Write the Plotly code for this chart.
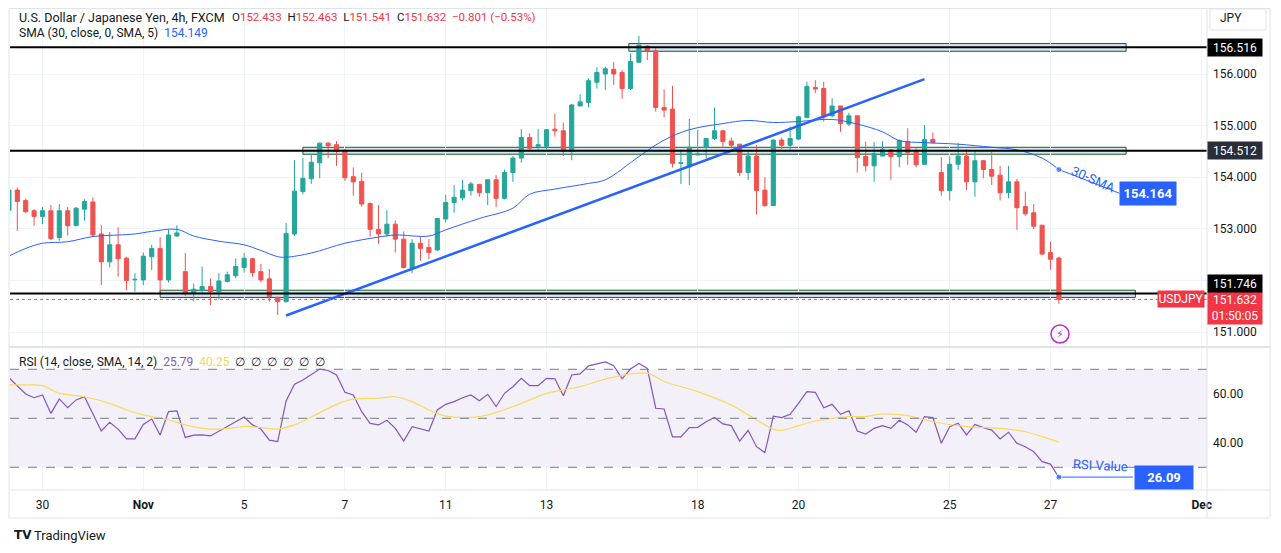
import plotly.graph_objects as go

# 4h candles USD/JPY (FXCM), Oct 29 .. Nov 27, one entry per bar
opens = [153.36, 153.75, 153.55, 153.35, 153.24, 153.35, 152.83, 153.35, 153.06, 153.38,
         153.52, 152.90, 152.36, 152.69, 152.43, 152.01, 152.01, 152.46, 152.62, 152.01,
         152.86, 152.17, 151.75, 151.81, 151.88, 151.78, 151.98, 152.09, 152.25, 152.42,
         152.17, 152.03, 151.67, 151.59, 152.90, 153.72, 153.97, 154.28, 154.66, 154.63,
         154.52, 154.01, 153.92, 153.49, 152.99, 152.90, 153.09, 152.80, 152.24, 152.72,
         152.64, 152.59, 153.19, 153.51, 153.60, 153.74, 153.86, 153.70, 153.95, 153.59,
         154.09, 154.37, 154.77, 154.60, 154.60, 154.93, 154.90, 154.50, 155.38, 155.45,
         155.84, 156.00, 156.09, 156.03, 155.72, 156.23, 156.54, 156.45, 155.35, 155.32,
         154.27, 154.20, 154.43, 154.58, 154.75, 154.90, 154.70, 154.64, 154.09, 154.41,
         153.75, 153.45, 154.72, 154.62, 154.74, 155.16, 155.74, 155.72, 155.19, 155.38,
         155.03, 155.19, 154.40, 154.22, 154.41, 154.53, 154.40, 154.69, 154.50, 154.25,
         154.73, 154.09, 153.74, 154.25, 154.41, 153.91, 154.32, 154.15, 154.04, 153.70,
         153.91, 153.43, 153.31, 153.07, 152.54, 152.433]
highs = [153.80, 153.80, 153.58, 153.38, 153.42, 153.46, 153.48, 153.42, 153.42, 153.57,
         153.61, 153.07, 152.94, 153.03, 152.46, 152.14, 152.54, 152.69, 152.84, 152.98,
         153.07, 152.53, 151.94, 152.27, 152.04, 152.14, 152.17, 152.43, 152.53, 152.44,
         152.32, 152.22, 151.69, 153.11, 154.33, 154.37, 154.45, 154.67, 154.68, 154.70,
         154.55, 154.19, 154.09, 153.51, 153.46, 153.36, 153.16, 152.95, 152.80, 152.84,
         152.80, 153.21, 153.66, 153.85, 153.95, 153.91, 153.87, 153.96, 154.04, 154.15,
         154.41, 154.93, 154.85, 154.93, 154.93, 155.23, 155.06, 155.42, 155.61, 155.92,
         156.13, 156.14, 156.23, 156.08, 156.40, 156.74, 156.56, 156.50, 155.70, 155.77,
         154.53, 155.13, 154.92, 154.76, 155.35, 154.92, 154.77, 154.64, 154.50, 154.62,
         154.00, 154.73, 154.77, 154.98, 155.19, 155.85, 155.88, 155.85, 155.53, 155.38,
         155.25, 155.19, 154.69, 154.68, 154.70, 154.54, 154.73, 154.95, 154.56, 155.01,
         154.87, 154.39, 154.40, 154.66, 154.54, 154.51, 154.33, 154.50, 154.22, 154.22,
         153.97, 153.72, 153.48, 153.07, 152.75, 152.463]
lows = [153.33, 152.96, 153.31, 153.06, 153.09, 152.78, 152.77, 152.87, 153.06, 153.16,
        152.85, 151.91, 152.25, 152.07, 151.81, 151.78, 151.91, 152.20, 151.75, 151.96,
        152.85, 151.70, 151.59, 151.75, 151.52, 151.63, 151.96, 152.04, 152.15, 152.07,
        151.96, 151.59, 151.33, 151.57, 152.86, 153.67, 153.87, 153.98, 154.37, 154.22,
        153.93, 153.64, 153.43, 152.85, 152.71, 152.84, 152.54, 152.23, 152.14, 152.38,
        152.41, 152.58, 153.12, 153.31, 153.55, 153.64, 153.62, 153.46, 153.42, 153.57,
        153.91, 154.28, 154.50, 154.51, 154.54, 154.79, 154.41, 154.33, 155.38, 155.35,
        155.72, 155.69, 155.79, 155.52, 155.69, 156.21, 156.27, 155.27, 155.16, 154.19,
        153.87, 153.85, 154.43, 154.37, 154.72, 154.59, 154.56, 154.02, 153.95, 153.28,
        153.43, 153.45, 154.54, 154.53, 154.72, 155.14, 155.63, 155.08, 155.16, 154.88,
        154.99, 154.09, 154.11, 153.91, 154.41, 153.95, 154.19, 154.24, 154.19, 154.24,
        154.66, 153.64, 153.55, 154.14, 153.75, 153.62, 153.98, 153.85, 153.55, 153.59,
        152.98, 153.25, 152.99, 152.49, 152.21, 151.541]
closes = [153.75, 153.53, 153.33, 153.24, 153.35, 152.81, 153.35, 153.06, 153.40, 153.53,
          152.88, 152.36, 152.69, 152.42, 152.00, 152.02, 152.47, 152.62, 152.01, 152.88,
          152.92, 151.75, 151.83, 151.88, 151.78, 151.99, 152.11, 152.27, 152.43, 152.15,
          152.01, 151.69, 151.59, 152.91, 153.73, 153.98, 154.29, 154.66, 154.61, 154.50,
          153.99, 153.91, 153.48, 152.99, 152.90, 153.09, 152.80, 152.25, 152.72, 152.62,
          152.54, 153.20, 153.51, 153.61, 153.75, 153.87, 153.70, 153.95, 153.59, 154.09,
          154.37, 154.77, 154.56, 154.63, 154.92, 154.90, 154.50, 155.40, 155.46, 155.87,
          156.03, 156.10, 156.00, 155.72, 156.24, 156.56, 156.45, 155.35, 155.30, 154.27,
          154.28, 154.58, 154.45, 154.75, 154.90, 154.69, 154.62, 154.09, 154.41, 153.74,
          153.45, 154.72, 154.62, 154.75, 155.17, 155.76, 155.71, 155.17, 155.38, 155.04,
          155.19, 154.38, 154.22, 154.46, 154.54, 154.40, 154.71, 154.48, 154.24, 154.73,
          154.67, 153.74, 154.25, 154.41, 153.91, 154.32, 154.15, 154.02, 153.70, 153.91,
          153.41, 153.29, 153.05, 152.51, 152.41, 151.632]
bars = list(range(len(closes)))

# SMA(30) at a number of bars
sma_bars = [0, 2, 4, 7, 10, 13, 15, 17, 20, 22, 25, 28, 30, 32, 33, 36, 40, 44, 46, 50,
            52, 56, 60, 62, 65, 69, 71, 75, 78, 81, 85, 88, 91, 94, 98, 101, 104, 106, 109, 113,
            117, 120, 123, 125]
sma_vals = [152.47, 152.62, 152.72, 152.75, 152.85, 152.88, 152.90, 152.95, 152.99, 152.86,
            152.76, 152.69, 152.58, 152.46, 152.45, 152.53, 152.72, 152.84, 152.88, 152.86,
            152.98, 153.20, 153.40, 153.67, 153.77, 153.88, 153.95, 154.40, 154.72, 154.92,
            155.04, 155.10, 155.06, 155.08, 155.12, 155.03, 154.88, 154.71, 154.67, 154.64,
            154.58, 154.53, 154.37, 154.149]

# RSI(14), one per bar
rsi_vals = [66.5, 63.1, 59.9, 58.4, 59.5, 52.0, 57.9, 54.3, 57.5, 58.8,
            51.9, 44.8, 48.4, 45.6, 41.6, 41.6, 47.5, 49.7, 43.2, 52.7,
            53.0, 42.2, 43.1, 43.2, 42.8, 44.8, 46.6, 48.6, 50.5, 47.3,
            45.6, 41.1, 40.5, 57.1, 63.9, 65.6, 68.0, 70.1, 69.5, 67.7,
            60.6, 59.5, 52.7, 47.9, 47.3, 49.2, 45.9, 40.7, 46.6, 45.6,
            44.8, 53.4, 55.7, 56.8, 58.4, 59.5, 57.2, 59.8, 54.8, 60.2,
            62.9, 66.3, 63.3, 63.3, 66.3, 66.1, 59.2, 67.7, 68.1, 71.4,
            72.3, 73.0, 71.5, 66.1, 70.1, 72.4, 70.4, 54.1, 53.8, 42.4,
            42.4, 46.2, 46.3, 48.6, 50.3, 47.7, 47.0, 40.7, 45.1, 38.4,
            36.0, 50.9, 50.3, 51.6, 56.1, 60.9, 60.6, 54.3, 55.7, 51.6,
            53.1, 44.8, 43.6, 45.9, 47.0, 45.9, 49.2, 47.3, 44.3, 50.7,
            50.3, 39.8, 46.6, 48.0, 43.2, 47.5, 46.2, 45.2, 41.6, 44.3,
            39.8, 38.4, 36.4, 32.3, 31.3, 25.79]

# RSI-based SMA(14)
rsi_ma_bars = [0, 2, 4, 6, 9, 12, 14, 16, 19, 21, 24, 27, 28, 30, 32, 34, 36, 39, 41, 44,
               46, 48, 50, 52, 56, 58, 60, 62, 64, 66, 68, 70, 72, 76, 78, 82, 86, 88, 91, 92,
               94, 96, 98, 100, 102, 104, 107, 110, 114, 118, 121, 123, 125]
rsi_ma_vals = [63.6, 63.6, 63.3, 60.2, 58.8, 56.1, 53.4, 51.4, 49.3, 47.3,
               45.6, 46.2, 46.7, 46.2, 45.6, 47.3, 50.5, 55.7, 57.8, 58.2,
               58.8, 56.8, 53.4, 50.9, 50.7, 52.4, 54.8, 57.5, 60.2, 61.6,
               62.9, 65.0, 66.8, 68.4, 65.0, 60.9, 55.4, 51.4, 45.6, 45.1,
               47.0, 48.9, 50.0, 50.7, 50.7, 51.8, 51.1, 48.6, 46.6, 45.9,
               44.5, 42.5, 40.25]

tick_bars = [4, 16, 28, 40, 52, 64, 82, 94, 112, 124, 142]
tick_text = ["30", "<b>Nov</b>", "5", "7", "11", "13", "18", "20", "25", "27", "<b>Dec</b>"]

ohlc = [("O", "152.433"), ("H", "152.463"), ("L", "151.541"), ("C", "151.632")]
change = "\u22120.801 (\u22120.53%)"

levels = [156.516, 154.512, 151.746]
level_bg = ["#000000", "#2a2e39", "#000000"]
zones = [(73.8, 133.0, 156.44, 156.59), (35.0, 133.0, 154.445, 154.58), (18.0, 134.1, 151.67, 151.81)]
trend_bars = [33, 109]
trend_vals = [151.32, 155.90]
last_price = 151.632
sma_last = 154.164
rsi_last = 26.09

UP = "#26a69a"
DOWN = "#ef5350"
BLUE = "#2962ff"
TXT = "#131722"
GRID = "#f0f3fa"
FONT = "Roboto"

# page pixels -> paper coords (page has an 8px body margin)
def fx(px):
    return (px - 10) / 1197


def fy(py):
    return (490 - py) / 482


fig = go.Figure()

fig.add_trace(go.Candlestick(
    x=bars, open=opens, high=highs, low=lows, close=closes,
    increasing=dict(line=dict(color=UP, width=1), fillcolor=UP),
    decreasing=dict(line=dict(color=DOWN, width=1), fillcolor=DOWN),
    whiskerwidth=0, hoverinfo="skip", showlegend=False, xaxis="x", yaxis="y"))

fig.add_trace(go.Scatter(x=sma_bars, y=sma_vals, mode="lines", line=dict(color=BLUE, width=1, shape="spline"),
                         hoverinfo="skip", showlegend=False, xaxis="x", yaxis="y"))
fig.add_trace(go.Scatter(x=trend_bars, y=trend_vals, mode="lines", line=dict(color=BLUE, width=2.5),
                         hoverinfo="skip", showlegend=False, xaxis="x", yaxis="y"))

# SMA callout
fig.add_trace(go.Scatter(x=[bars[-1], 132.2], y=[sma_vals[-1], 153.69], mode="lines+markers",
                         line=dict(color=BLUE, width=1), marker=dict(size=[6, 0], color=BLUE),
                         hoverinfo="skip", showlegend=False, xaxis="x", yaxis="y"))

# RSI
fig.add_trace(go.Scatter(x=bars, y=rsi_vals, mode="lines", line=dict(color="#7e57c2", width=1.2),
                         hoverinfo="skip", showlegend=False, xaxis="x2", yaxis="y2"))
fig.add_trace(go.Scatter(x=rsi_ma_bars, y=rsi_ma_vals, mode="lines", line=dict(color="#f7dc5a", width=1.2, shape="spline"),
                         hoverinfo="skip", showlegend=False, xaxis="x2", yaxis="y2"))
fig.add_trace(go.Scatter(x=[bars[-1], 133.8], y=[26.0, 26.0], mode="lines+markers",
                         line=dict(color=BLUE, width=1), marker=dict(size=[6, 0], color=BLUE),
                         hoverinfo="skip", showlegend=False, xaxis="x2", yaxis="y2"))

shapes = []
for x0, x1, y0, y1 in zones:
    shapes.append(dict(type="rect", xref="x", yref="y", x0=x0, x1=x1, y0=y0, y1=y1,
                       fillcolor="rgba(187,214,240,0.65)", line=dict(color="#1b5e20", width=1), layer="below"))
for lv in levels:
    shapes.append(dict(type="line", xref="paper", yref="y", x0=0, x1=1, y0=lv, y1=lv,
                       line=dict(color="#000000", width=2)))
shapes.append(dict(type="line", xref="paper", yref="y", x0=0, x1=1, y0=last_price, y1=last_price,
                   line=dict(color=DOWN, width=1, dash="dot")))
# RSI band
shapes.append(dict(type="rect", xref="paper", yref="y2", x0=0, x1=1, y0=30, y1=70,
                   fillcolor="rgba(126,87,194,0.09)", line=dict(width=0), layer="below"))
for lv in [70, 50, 30]:
    shapes.append(dict(type="line", xref="paper", yref="y2", x0=0, x1=1, y0=lv, y1=lv,
                       line=dict(color="#787b86", width=1, dash="dash")))
# frame
frame = "#e0e3eb"
shapes.append(dict(type="rect", xref="paper", yref="paper", x0=fx(9), x1=fx(1270), y0=fy(518), y1=fy(8.5),
                   line=dict(color=frame, width=1)))
shapes.append(dict(type="line", xref="paper", yref="paper", x0=fx(9), x1=fx(1270), y0=fy(347), y1=fy(347),
                   line=dict(color=frame, width=2)))
shapes.append(dict(type="line", xref="paper", yref="paper", x0=fx(9), x1=fx(1270), y0=0, y1=0,
                   line=dict(color=frame, width=1)))
shapes.append(dict(type="line", xref="paper", yref="paper", x0=1, x1=1, y0=fy(518), y1=fy(8.5),
                   line=dict(color=frame, width=1)))
# JPY box
shapes.append(dict(type="rect", xref="paper", yref="paper", x0=fx(1210), x1=fx(1266), y0=fy(30), y1=fy(9),
                   line=dict(color=frame, width=1)))
# events icon
shapes.append(dict(type="circle", xref="paper", yref="paper", x0=fx(1051), x1=fx(1069), y0=fy(343), y1=fy(325),
                   line=dict(color="#c32bd8", width=1.5)))

red = "color:#f23645"
nb = "\u00a0"
header_vals = (nb + " ").join("%s<span style='%s'>%s</span>" % (k, red, v) for k, v in ohlc)
header_vals += nb + " " + "<span style='%s'>%s</span>" % (red, change)
header2 = "SMA (30, close, 0, SMA, 5)" + nb * 2 + "<span style='color:%s'>%.3f</span>" % (BLUE, sma_vals[-1])
header3 = ("RSI (14, close, SMA, 14, 2)" + nb * 2 + "<span style='color:#7e57c2'>%.2f</span>" % rsi_vals[-1] +
           nb * 2 + "<span style='color:#f7d84a'>%.2f</span>" % rsi_ma_vals[-1] + nb * 2 +
           (nb * 2).join(["\u2205"] * 6))

ann = [
    dict(xref="paper", yref="paper", x=fx(17), y=fy(17), text="U.S. Dollar / Japanese Yen, 4h, FXCM",
         xanchor="left", yanchor="middle", showarrow=False, font=dict(family=FONT, size=12.5, color=TXT)),
    dict(xref="paper", yref="paper", x=fx(538), y=fy(17), text=header_vals, xanchor="right", yanchor="middle",
         showarrow=False, font=dict(family=FONT, size=11.5, color=TXT)),
    dict(xref="paper", yref="paper", x=fx(17), y=fy(33), text=header2, xanchor="left", yanchor="middle",
         showarrow=False, font=dict(family=FONT, size=12, color=TXT)),
    dict(xref="paper", yref="paper", x=fx(17), y=fy(362), text=header3, xanchor="left", yanchor="middle",
         showarrow=False, font=dict(family=FONT, size=12, color=TXT)),
    dict(xref="paper", yref="paper", x=fx(1218), y=fy(18), text="JPY", xanchor="left", yanchor="middle",
         showarrow=False, font=dict(family=FONT, size=12, color=TXT)),
    dict(xref="paper", yref="paper", x=fx(12), y=fy(535), text="<b>TV</b>", xanchor="left", yanchor="middle",
         showarrow=False, font=dict(family="DejaVu Sans", size=12, color=TXT)),
    dict(xref="paper", yref="paper", x=fx(32), y=fy(535), text="TradingView", xanchor="left", yanchor="middle",
         showarrow=False, font=dict(family=FONT, size=13, color=TXT)),
    dict(xref="paper", yref="paper", x=fx(1060), y=fy(334), text="\u26a1", xanchor="center", yanchor="middle",
         showarrow=False, font=dict(family="DejaVu Sans", size=11, color="#c32bd8")),
    # SMA callout
    dict(xref="x", yref="y", x=129.1, y=153.95, text="30-SMA", textangle=24, showarrow=False,
         font=dict(family=FONT, size=13, color=BLUE)),
    dict(xref="x", yref="y", x=135.6, y=153.68, text="<b>%.3f</b>" % sma_last, showarrow=False,
         bgcolor=BLUE, width=52, height=19, borderpad=2, font=dict(family=FONT, size=13, color="white")),
    # RSI callout
    dict(xref="x2", yref="y2", x=129.9, y=30.9, text="RSI Value", textangle=3, showarrow=False,
         font=dict(family=FONT, size=13, color=BLUE)),
    dict(xref="x2", yref="y2", x=137.5, y=26.0, text="<b>%.2f</b>" % rsi_last, showarrow=False,
         bgcolor=BLUE, width=54, height=19, borderpad=2, font=dict(family=FONT, size=13, color="white")),
    # current price tags
    dict(xref="paper", yref="y", x=fx(1181), y=last_price, text="USDJPY", showarrow=False,
         bgcolor="#f23645", width=44, height=14, borderpad=1, xanchor="center", yanchor="middle",
         font=dict(family=FONT, size=12, color="white")),
    dict(xref="paper", yref="y", x=1.0, y=last_price, yshift=8, text="151.632<br>01:50:05", showarrow=False,
         bgcolor="#f23645", width=52, height=30, borderpad=1, xanchor="left", yanchor="top",
         font=dict(family=FONT, size=12, color="white")),
]
for lv, bg in zip(levels, level_bg):
    shift = 10 if lv == levels[2] else 0
    ann.append(dict(xref="paper", yref="y", x=1.0, y=lv, yshift=shift, text="%.3f" % lv, showarrow=False,
                    bgcolor=bg, width=52, height=15, borderpad=1, xanchor="left", yanchor="middle",
                    font=dict(family=FONT, size=12, color="white")))

xr = [0.13, 142.63]
fig.update_layout(
    width=1281, height=553,
    margin=dict(l=2, r=82, t=0, b=71),
    paper_bgcolor="white", plot_bgcolor="white",
    showlegend=False,
    shapes=shapes, annotations=ann,
    font=dict(family=FONT, size=12, color=TXT),
    xaxis=dict(domain=[0, 1], range=xr, anchor="y", tickvals=tick_bars, ticktext=tick_text,
               showticklabels=False, showgrid=True, gridcolor=GRID, zeroline=False,
               rangeslider=dict(visible=False), fixedrange=True),
    xaxis2=dict(domain=[0, 1], range=xr, anchor="y2", tickvals=tick_bars, ticktext=tick_text,
                showgrid=True, gridcolor=GRID, zeroline=False, ticks="", ticklabelstandoff=6,
                tickfont=dict(family=FONT, size=12, color=TXT)),
    yaxis=dict(domain=[fy(346), 1], range=[150.729, 157.279], side="right", anchor="x",
               tickvals=[151, 152, 153, 154, 155, 156],
               ticktext=["151.000", "", "153.000", "154.000", "155.000", "156.000"],
               showgrid=True, gridcolor=GRID, zeroline=False, ticks="", ticklabelstandoff=5,
               tickfont=dict(family=FONT, size=12, color=TXT)),
    yaxis2=dict(domain=[0, fy(348)], range=[20.73, 78.69], side="right", anchor="x2",
                tickvals=[40, 60], ticktext=["40.00", "60.00"],
                showgrid=True, gridcolor=GRID, zeroline=False, ticks="", ticklabelstandoff=5,
                tickfont=dict(family=FONT, size=12, color=TXT)),
)

fig.write_html("out.html")
